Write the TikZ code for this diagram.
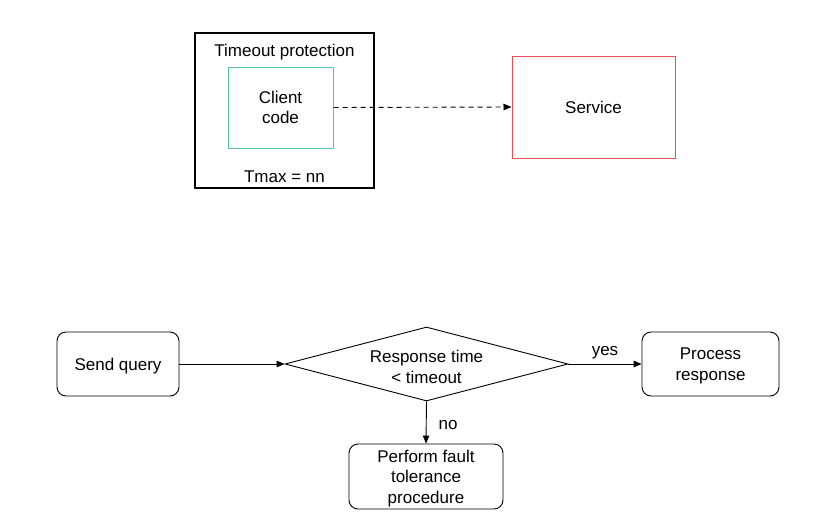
\documentclass[tikz,border=0pt]{standalone}
\usepackage{fontspec}
\setmainfont{Liberation Sans}
\usetikzlibrary{arrows.meta,shapes.geometric}
\definecolor{tealc}{RGB}{80,200,170}
\definecolor{redc}{RGB}{230,80,85}
\begin{document}
\begin{tikzpicture}[x=1pt,y=-1pt,
  every node/.style={font=\fontsize{17}{20.5}\selectfont, align=center, inner sep=0pt},
  rbox/.style={draw, line width=0.9pt, rounded corners=9pt, text depth=0pt},
  arr/.style={line width=0.9pt, -{Triangle[length=8pt,width=6.5pt]}}]
\useasboundingbox (0,0) rectangle (825,525);
\fill[white] (0,0) rectangle (825,525);
% top part
\node[draw, line width=2pt, minimum width=179pt, minimum height=155pt] (outer) at (284.5,110.5) {};
\node (title) at (284.5,52) {Timeout protection};
\node[draw=tealc, line width=1pt, minimum width=105pt, minimum height=81pt, text depth=0pt] (client) at (280.5,107.5) {Client\\code};
\node (tmax) at (284.5,177) {Tmax = nn};
\node[draw=redc, line width=1pt, minimum width=163pt, minimum height=102pt, text depth=0pt] (service) at (593.5,107) {Service};
\draw[arr, dash pattern=on 5pt off 4pt] (client.east) -- (service.west);
% bottom part
\node[rbox, minimum width=122pt, minimum height=64pt] (send) at (118,364) {Send query};
\node[draw, line width=0.9pt, diamond, aspect=3.82, minimum width=283pt, minimum height=74pt] (dec) at (426.5,364) {};
\node (dectext) at (426.5,367) {Response time\\< timeout};
\node[rbox, minimum width=137pt, minimum height=64pt] (proc) at (710.5,364) {Process\\response};
\node[rbox, minimum width=154pt, minimum height=65pt] (fault) at (426,476.5) {Perform fault\\tolerance\\procedure};
\draw[arr] (send.east) -- (dec.west);
\draw[arr] (dec.east) -- node[above=5pt] {yes} (proc.west);
\draw[arr] (dec.south) -- node[right=12pt, yshift=-3pt] {no} (fault.north);
\end{tikzpicture}
\end{document}
